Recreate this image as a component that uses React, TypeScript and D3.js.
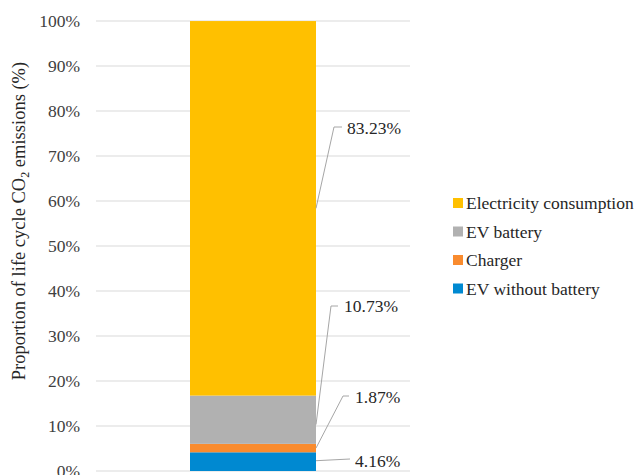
import React from "react";
import * as d3 from "d3";

const categories = ["EV without battery", "Charger", "EV battery", "Electricity consumption"];
const values = [4.16, 1.87, 10.73, 83.23];
const colors = ["#0089D1", "#F98B2E", "#B1B1B1", "#FFC000"];
const valueLabels = ["4.16%", "1.87%", "10.73%", "83.23%"];
const yTicks = [0, 10, 20, 30, 40, 50, 60, 70, 80, 90, 100];
const legendOrder = ["Electricity consumption", "EV battery", "Charger", "EV without battery"];

// label anchor positions (layout)
const labelPos = [
  { lx: 355, ly: 461, start: 0.55, cx: 350, cy: 459, hx: 350 },
  { lx: 355, ly: 397, start: 0.5, cx: 343, cy: 396, hx: 349 },
  { lx: 344, ly: 306, start: 0.4, cx: 331, cy: 306, hx: 338 },
  { lx: 347, ly: 128, start: 0.5, cx: 334, cy: 127, hx: 342 },
];

const font = "Liberation Serif, Times New Roman, serif";
const fs = 17.5;

export default function App() {
  const W = 636, H = 475;
  const y = d3.scaleLinear().domain([0, 100]).range([471, 21]);
  const x = d3.scaleBand().domain(["EV"]).range([96, 410]).paddingInner(0).paddingOuter(0.746);
  const bx = x("EV")!;
  const bw = x.bandwidth();
  const stack = d3.stack<any>().keys(categories)([Object.fromEntries(categories.map((c, i) => [c, values[i]]))]);

  return (
    <svg width={W} height={H} fontFamily={font} style={{ position: "absolute", left: 0, top: 0 }}>
      <rect width={W} height={H} fill="#fff" />
      {yTicks.map((t) => (
        <g key={t}>
          <line x1={96} x2={410} y1={y(t)} y2={y(t)} stroke="#D9D9D9" strokeWidth={1} />
          <text x={80} y={y(t)} dy="0.35em" textAnchor="end" fontSize={fs} fill="#404040">
            {t}%
          </text>
        </g>
      ))}
      {stack.map((s, i) => (
        <rect key={categories[i]} x={bx} width={bw} y={y(s[0][1])} height={y(s[0][0]) - y(s[0][1])} fill={colors[i]} />
      ))}
      {stack.map((s, i) => {
        const p = labelPos[i];
        const y0 = s[0][0], y1 = s[0][1];
        const sy = y(y0 + (y1 - y0) * p.start);
        return (
          <g key={"l" + i}>
            <polyline
              points={`${bx + bw},${sy} ${p.cx},${p.cy} ${p.hx},${p.cy}`}
              fill="none"
              stroke="#A6A6A6"
              strokeWidth={1}
            />
            <text x={p.lx} y={p.ly} dy="0.35em" fontSize={fs} fill="#262626">
              {valueLabels[i]}
            </text>
          </g>
        );
      })}
      <text transform="translate(25,221) rotate(-90)" textAnchor="middle" fontSize={18.5} fill="#262626">
        Proportion of life cycle CO<tspan fontSize={12} dy={4}>2</tspan>
        <tspan dy={-4}> emissions (%)</tspan>
      </text>
      {legendOrder.map((c, i) => {
        const idx = categories.indexOf(c);
        const ly = 203 + i * 28.5;
        return (
          <g key={c}>
            <rect x={453} y={ly - 5} width={10} height={10} fill={colors[idx]} />
            <text x={466} y={ly} dy="0.35em" fontSize={fs} fill="#262626">
              {c}
            </text>
          </g>
        );
      })}
    </svg>
  );
}
